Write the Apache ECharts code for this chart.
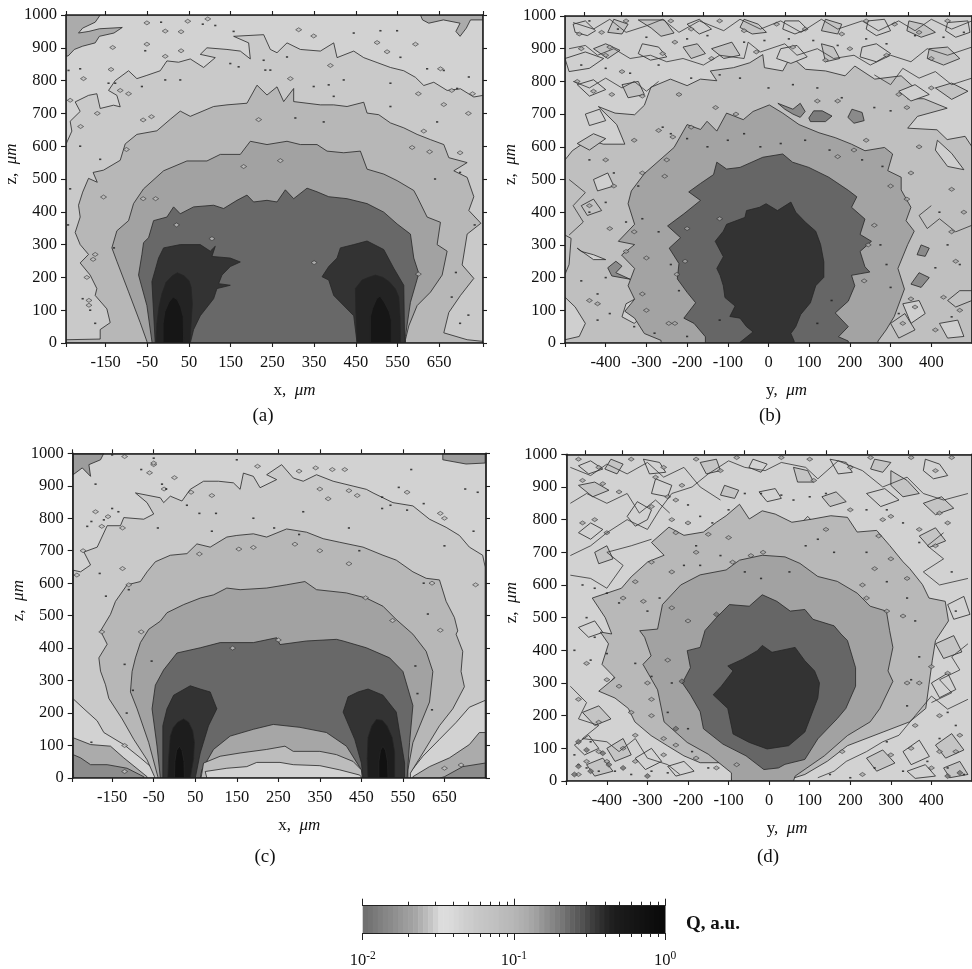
<!DOCTYPE html>
<html><head><meta charset="utf-8">
<style>html,body{margin:0;padding:0;background:#fff;overflow:hidden}#c{width:972px;height:969px}</style>
<script src="https://cdn.jsdelivr.net/npm/echarts@6/dist/echarts.min.js"></script>
</head><body><div id="c"></div>
<script>
// ---- tick labels ----
const xTickLabelsAC=[-150,-50,50,150,250,350,450,550,650];
const xTicksAC=[-245,-150,-50,50,150,250,350,450,550,650,755];
const yTickLabelsBD=[-400,-300,-200,-100,0,100,200,300,400];
const xTicksBD=[-500,-400,-300,-200,-100,0,100,200,300,400];
const xTopTicksBD=[-453,-362,-262,-160,-61,40,140,241,343,444];
const cbarMinor=[0.02,0.03,0.04,0.05,0.06,0.07,0.08,0.09,0.2,0.3,0.4,0.5,0.6,0.7,0.8,0.9];
const cbarMajor=[0.01,0.1,1];
const cbarGray=[112,116,122,128,134,138,144,150,156,160,166,176,186,196,208,220,220,218,214,210,206,204,200,198,196,194,192,188,186,184,180,176,172,166,160,150,142,134,126,118,108,98,90,82,72,62,54,46,38,32,28,26,24,22,20,18,16,14,12,10];

// ---- panel (a) contours ----
const aCornerL=[[-245,1000],[-163,1000],[-175,978],[-205,960],[-215,945],[-190,950],[-165,958],[-110,962],[-130,945],[-165,935],[-175,915],[-205,905],[-225,895],[-240,875],[-245,875]];
const aCornerR=[[605,1000],[755,1000],[755,985],[725,985],[715,960],[700,935],[690,950],[700,975],[660,985],[625,975],[610,985]];
const aA=[[-245,606],[-231,646],[-235,676],[-211,706],[-223,735],[-191,755],[-171,760],[-163,715],[-131,725],[-115,720],[-123,755],[-143,770],[-127,800],[-95,830],[-75,806],[-51,816],[-19,830],[-3,860],[25,856],[53,866],[85,840],[113,870],[77,880],[93,900],[141,895],[173,890],[197,866],[193,915],[157,935],[229,940],[245,895],[261,885],[285,915],[317,895],[365,890],[397,915],[405,870],[445,890],[469,870],[501,855],[533,840],[565,830],[593,810],[613,785],[637,795],[669,770],[701,775],[733,750],[755,755],[755,0],[-245,0]];
const aB=[[-245,10],[-163,12],[-163,41],[-139,62],[-147,104],[-175,145],[-171,166],[-187,207],[-211,244],[-191,270],[-211,300],[-223,337],[-211,384],[-215,420],[-205,460],[-191,502],[-170,490],[-180,520],[-155,527],[-115,557],[-103,607],[-75,636],[-27,647],[5,682],[29,707],[53,691],[109,721],[141,726],[189,731],[213,786],[237,756],[261,781],[277,736],[301,776],[301,736],[365,726],[397,726],[429,721],[469,734],[477,701],[505,696],[533,671],[565,656],[597,636],[629,620],[661,605],[673,565],[717,550],[685,525],[717,505],[733,446],[721,404],[750,365],[717,332],[705,238],[733,197],[701,145],[673,93],[661,31],[717,10],[755,5],[755,0],[-245,0]];
const aC=[[-51,5],[-67,62],[-95,156],[-123,249],[-135,290],[-123,342],[-95,373],[-83,425],[-59,470],[-11,525],[45,555],[93,555],[125,575],[173,575],[197,615],[237,605],[285,615],[317,605],[357,605],[381,585],[421,580],[461,585],[477,530],[517,515],[549,495],[589,465],[597,446],[621,384],[653,368],[645,300],[669,280],[657,207],[629,155],[597,114],[577,52],[569,10],[569,0],[-51,0]];
const aD=[[-39,5],[-51,114],[-71,207],[-63,270],[-59,306],[-47,321],[-35,373],[-3,384],[13,415],[29,394],[61,415],[109,420],[133,410],[165,435],[189,451],[205,430],[237,435],[261,430],[281,467],[301,440],[333,472],[357,461],[385,446],[429,440],[477,425],[517,399],[549,363],[581,332],[589,259],[601,212],[581,124],[569,21],[569,0],[-39,0]];
const aEL=[[-31,0],[-39,187],[-23,259],[-11,290],[29,300],[77,300],[101,280],[113,295],[105,264],[149,259],[173,247],[149,233],[129,207],[121,181],[149,176],[117,166],[109,135],[77,83],[61,41],[53,0]];
const aER=[[453,0],[445,83],[397,145],[385,192],[369,202],[385,233],[405,259],[413,290],[445,300],[477,311],[517,285],[541,228],[565,176],[567,0]];
const aFL=[[-29,0],[-27,60],[-22,110],[-15,150],[-5,185],[10,205],[22,214],[38,205],[50,190],[55,170],[58,120],[55,60],[52,0]];
const aFR=[[453,0],[450,100],[449,166],[465,192],[480,200],[497,207],[515,200],[530,187],[545,165],[553,140],[556,80],[557,0]];
const aGL=[[-12,0],[-12,60],[-8,95],[2,125],[12,140],[22,132],[30,110],[36,80],[37,0]];
const aGR=[[485,0],[485,80],[490,105],[500,135],[508,143],[518,125],[530,95],[535,70],[535,0]];
const aDots=[[-17,978],[83,972],[113,968],[157,950],[509,952],[549,952],[445,945],[285,872],[229,862],[149,852],[169,842],[233,832],[245,832],[421,802],[349,782],[385,787],[533,792],[397,752],[305,686],[373,674],[-7,802],[29,802],[-63,782],[-143,792],[-127,792],[-211,836],[-239,831],[-55,891],[557,871],[621,836],[661,831],[721,811],[693,776],[533,721],[645,674],[-211,600],[-163,560],[-235,470],[640,500],[700,520],[-205,135],[-187,100],[-175,60],[700,60],[720,85],[680,140],[-240,360],[-130,290],[735,360],[690,215]];
const aBlobs=[[-7,951],[-51,976],[31,949],[47,981],[95,988],[-133,901],[-51,911],[31,891],[-7,874],[-137,834],[-203,806],[389,846],[501,916],[525,888],[593,911],[653,836],[661,727],[293,806],[313,955],[349,936],[627,583],[269,556],[181,538],[217,681],[585,596],[613,646],[-95,760],[-115,770],[-60,680],[-40,690],[-100,590],[-155,445],[-60,440],[-30,440],[-175,270],[-180,255],[-235,740],[-210,660],[-195,200],[-190,130],[-190,115],[20,360],[105,318],[600,210],[350,245],[700,580],[720,700],[680,770],[730,760],[600,760],[-170,700]];

// ---- panel (b) contours ----
const bA=[[-500,560],[-482,588],[-442,622],[-406,608],[-353,608],[-373,668],[-418,723],[-377,703],[-329,698],[-305,727],[-289,782],[-241,807],[-200,787],[-167,807],[-127,802],[-143,832],[-86,842],[-46,857],[-14,882],[-10,842],[35,832],[55,877],[91,837],[140,832],[188,817],[212,847],[261,807],[326,817],[366,772],[342,747],[382,747],[439,718],[366,693],[342,657],[414,652],[439,622],[483,632],[500,600],[500,0],[-500,0]];
const bB=[[-264,8],[-305,29],[-329,76],[-353,97],[-329,134],[-345,175],[-329,228],[-361,269],[-329,301],[-369,311],[-329,363],[-345,426],[-337,465],[-305,518],[-232,598],[-200,668],[-167,653],[-151,678],[-127,648],[-103,703],[-62,683],[-38,708],[2,728],[35,703],[75,668],[124,643],[164,628],[204,608],[237,588],[285,598],[305,578],[293,527],[326,507],[326,468],[350,415],[338,374],[358,342],[342,301],[318,228],[334,165],[309,81],[289,40],[269,6],[269,0],[-264,0]];
const bC=[[-155,19],[-183,60],[-208,76],[-179,123],[-200,155],[-224,196],[-220,243],[-244,290],[-216,322],[-248,358],[-208,395],[-167,436],[-196,462],[-167,488],[-135,515],[-127,553],[-103,532],[-70,537],[-14,568],[35,578],[59,553],[99,537],[148,507],[196,467],[217,447],[204,415],[237,379],[225,332],[253,311],[225,280],[237,233],[249,217],[204,207],[212,175],[196,128],[164,92],[196,50],[172,19],[196,6],[196,0],[-155,0]];
const bD=[[-70,2],[-38,34],[-54,50],[-70,76],[-95,81],[-82,113],[-107,139],[-111,175],[-119,207],[-127,228],[-111,264],[-131,311],[-111,342],[-103,363],[-58,384],[-54,405],[-22,415],[-6,426],[22,405],[55,431],[67,400],[91,369],[116,342],[128,301],[136,248],[136,201],[116,175],[103,123],[79,87],[67,50],[55,29],[63,6],[63,0],[-70,0]];
const bPatch1=[[99,688],[111,710],[132,710],[156,694],[140,677],[103,677]];
const bPatch2=[[23,733],[60,715],[78,733],[90,708],[78,690],[60,700],[40,715]];
const bPatch3=[[195,690],[205,715],[230,705],[235,680],[210,672]];
const bPatch4=[[-340,195],[-385,205],[-395,230],[-375,250],[-360,235],[-375,215]];
const bPatch5=[[365,270],[375,300],[395,290],[385,265]];
const bPatch6=[[350,180],[370,215],[395,200],[375,170]];
const bLoops=[
 [[-460,280],[-430,270],[-400,255],[-430,255],[-470,290]],
 [[-500,330],[-485,320],[-490,240],[-500,210]],
 [[-500,140],[-475,110],[-450,60],[-465,20],[-500,10]],
 [[-320,988],[-256,988],[-232,948],[-264,938],[-288,963]],
 [[-500,870],[-450,890],[-405,870],[-440,840],[-490,830]],
 [[470,160],[440,130],[460,110],[500,130],[500,160]],
 [[415,620],[450,580],[480,530],[440,540],[410,590]],
 [[-140,900],[-110,870],[-70,880],[-90,920]],
 [[-480,975],[-450,985],[-425,955],[-445,940],[-475,950]],
 [[-380,990],[-345,975],[-360,945],[-395,950]],
 [[-200,975],[-170,990],[-140,960],[-170,945]],
 [[-60,990],[-25,975],[-5,950],[-40,945],[-70,965]],
 [[40,985],[75,985],[95,960],[65,945],[35,960]],
 [[140,990],[180,975],[170,945],[130,955]],
 [[245,985],[285,990],[300,955],[265,940],[240,960]],
 [[345,985],[380,975],[410,950],[375,935],[340,955]],
 [[440,980],[490,985],[495,950],[460,935],[435,955]],
 [[-430,900],[-400,915],[-365,895],[-395,870]],
 [[-310,915],[-270,905],[-250,875],[-290,865],[-320,885]],
 [[-210,905],[-175,915],[-155,885],[-190,870]],
 [[30,900],[70,910],[95,875],[55,855],[20,870]],
 [[130,915],[160,905],[175,870],[140,860]],
 [[230,905],[265,915],[300,885],[265,860],[225,875]],
 [[395,900],[440,905],[470,870],[430,850],[390,870]],
 [[-470,790],[-430,805],[-400,775],[-440,755]],
 [[-360,790],[-320,800],[-305,760],[-345,750]],
 [[-450,700],[-415,715],[-400,680],[-440,665]],
 [[-470,610],[-430,640],[-400,625],[-440,590]],
 [[320,770],[360,790],[395,760],[350,740]],
 [[410,780],[450,795],[490,770],[450,745]],
 [[-430,500],[-395,520],[-380,480],[-420,465]],
 [[-460,420],[-430,440],[-410,405],[-445,390]],
 [[-350,120],[-320,140],[-300,90],[-330,60],[-360,80]],
 [[-300,90],[-270,70],[-280,20],[-310,40]],
 [[330,120],[370,130],[385,90],[350,60]],
 [[300,60],[335,90],[360,40],[320,15]],
 [[420,60],[465,70],[480,20],[440,15]]
];
const bLine1=[[-490,900],[-450,910],[-420,880],[-380,900],[-340,870],[-290,880],[-250,860],[-210,870],[-160,850],[-120,880],[-60,870],[-50,920],[-20,890],[40,915],[70,880],[120,900],[160,870],[210,880],[250,850],[300,880],[350,860],[390,900],[440,880],[500,905]];
const bLine2=[[-480,980],[-430,960],[-390,990],[-350,950],[-300,970],[-260,990],[-220,950],[-170,985],[-110,955],[-70,990],[-20,960],[30,985],[80,950],[130,990],[170,960],[230,985],[270,955],[320,985],[360,955],[400,990],[450,960],[500,985]];
const bLine3=[[-480,800],[-440,780],[-400,810],[-360,780],[-330,800],[-300,770],[-270,800]];
const bLine4=[[260,820],[300,790],[330,840],[370,810],[410,830],[450,790],[500,810]];
const bLine5=[[400,420],[370,390],[390,350],[420,380],[460,340],[500,360]];
const bLine6=[[-490,500],[-450,460],[-480,420],[-455,370],[-490,330]];
const bDots=[[-440,985],[-370,960],[-300,935],[-200,930],[-150,940],[-60,920],[-10,925],[50,930],[110,925],[170,910],[240,930],[290,915],[360,940],[430,935],[480,950],[-460,850],[-400,840],[-340,825],[-270,850],[-190,810],[-120,820],[-70,810],[0,780],[60,790],[120,780],[180,750],[260,720],[300,710],[-260,660],[-240,640],[-200,625],[-150,600],[-100,620],[-60,640],[-20,600],[30,610],[90,620],[150,590],[230,560],[280,540],[-440,560],[-380,520],[-320,480],[-440,400],[-400,430],[-350,370],[-310,380],[-270,340],[-460,190],[-420,150],[-390,90],[-330,50],[-280,30],[-200,20],[-240,240],[-220,160],[-120,70],[120,60],[155,130],[275,300],[290,240],[300,170],[320,90],[420,400],[440,300],[470,240],[410,230],[450,80],[-420,70],[-400,200]];
const bBlobs=[[-465,945],[-410,950],[-390,905],[-350,985],[-240,985],[-190,960],[-120,985],[-60,955],[20,975],[90,960],[180,945],[240,985],[310,975],[370,950],[440,985],[-460,900],[-400,880],[-360,830],[-260,885],[-230,920],[-140,870],[-30,890],[60,905],[140,865],[200,900],[290,880],[400,870],[-470,800],[-430,770],[-385,760],[-310,755],[-220,760],[-130,720],[-80,700],[-190,660],[-235,630],[-270,650],[-330,620],[-400,560],[-380,480],[-250,560],[-255,510],[-310,520],[170,570],[210,590],[240,620],[170,740],[120,740],[320,760],[340,720],[400,780],[370,600],[350,520],[300,480],[340,440],[450,470],[480,400],[-440,420],[-390,350],[-440,130],[-420,120],[-330,340],[-350,280],[-300,260],[-310,150],[-300,100],[-245,60],[-225,210],[-200,350],[-120,380],[235,190],[245,300],[260,360],[330,60],[360,110],[410,40],[470,100],[430,140],[460,250],[450,340],[350,135],[-205,250],[-230,60]];

// ---- panel (c) contours ----
const cCornerTL=[[-244,1000],[-170,1000],[-178,980],[-206,965],[-202,929],[-222,955],[-244,934]];
const cCornerTR=[[646,1000],[748,1000],[748,970],[702,967],[646,980]];
const cA=[[-244,640],[-226,635],[-202,656],[-218,696],[-186,711],[-162,777],[-130,777],[-122,802],[-74,797],[-50,813],[-66,848],[-94,878],[-34,863],[-26,848],[-10,868],[18,853],[38,889],[70,914],[106,914],[142,909],[158,889],[166,939],[190,929],[206,894],[246,919],[222,934],[258,965],[286,924],[310,914],[342,934],[382,914],[430,899],[462,889],[478,878],[526,848],[574,838],[614,797],[654,772],[686,747],[710,711],[742,686],[748,650],[748,0],[-244,0]];
const cL1=[[-244,244],[-218,213],[-186,176],[-170,140],[-122,103],[-82,62],[-48,25],[-44,0],[-244,0]];
const cL2=[[-244,124],[-202,103],[-154,98],[-122,62],[-66,4],[-66,0],[-244,0]];
const cL3=[[-244,72],[-226,62],[-202,41],[-162,41],[-114,30],[-74,4],[-74,0],[-244,0]];
const cR1=[[566,15],[598,67],[638,119],[678,171],[710,218],[748,239],[748,0],[566,0]];
const cR2=[[574,4],[614,35],[662,62],[710,103],[734,140],[748,140],[748,0],[574,0]];
const cR3=[[650,4],[694,35],[748,46],[748,0],[640,0]];
const cB=[[-48,4],[-66,56],[-98,119],[-126,182],[-158,245],[-166,287],[-178,329],[-182,370],[-162,412],[-178,453],[-154,504],[-142,544],[-114,595],[-82,605],[-66,635],[-46,666],[-10,686],[30,691],[54,721],[86,711],[126,742],[150,747],[190,752],[222,742],[270,767],[318,757],[358,737],[398,726],[454,711],[502,686],[534,671],[574,635],[606,615],[638,610],[654,544],[674,494],[682,453],[678,443],[694,390],[690,328],[698,281],[670,213],[638,161],[598,77],[568,15],[568,0],[-48,0]];
const cC=[[-40,4],[-62,109],[-90,213],[-106,265],[-102,328],[-94,370],[-82,417],[-62,458],[-34,483],[-18,509],[22,534],[62,554],[94,564],[126,585],[158,580],[222,585],[270,595],[314,605],[342,580],[414,570],[462,554],[502,529],[534,488],[574,443],[606,390],[622,328],[614,234],[574,109],[562,25],[562,0],[-40,0]];
const cD=[[-34,0],[-42,98],[-54,213],[-46,286],[-26,333],[6,385],[62,401],[110,417],[190,417],[246,432],[254,411],[318,422],[390,427],[406,422],[462,401],[518,370],[550,328],[574,223],[566,109],[560,0]];
const cM1=[[62,0],[66,25],[94,88],[134,129],[190,150],[238,165],[302,156],[366,140],[414,98],[450,25],[452,0]];
const cM2=[[64,0],[70,46],[110,67],[158,77],[222,88],[266,98],[286,82],[350,82],[390,72],[430,51],[450,25],[452,0]];
const cM3=[[78,0],[74,20],[126,30],[174,35],[198,48],[254,48],[286,41],[350,38],[398,25],[446,9],[452,0]];
const cEL=[[-28,0],[-28,161],[-18,213],[-2,255],[38,284],[62,274],[86,265],[102,213],[82,161],[62,77],[50,0]];
const cFL=[[-16,0],[-14,60],[-10,129],[-3,155],[8,172],[22,182],[34,172],[44,145],[48,110],[46,60],[38,0]];
const cGL=[[0,0],[1,50],[5,85],[12,98],[18,85],[23,50],[24,0]];
const cER=[[454,0],[450,46],[434,119],[406,203],[418,250],[442,265],[466,274],[502,255],[534,203],[554,46],[554,0]];
const cFR=[[466,0],[464,60],[466,125],[475,160],[486,180],[500,178],[512,160],[524,125],[530,80],[530,0]];
const cGR=[[492,0],[492,50],[496,85],[502,98],[508,85],[513,50],[514,0]];
const cDots=[[-150,995],[-50,985],[150,980],[-80,950],[-190,905],[-30,905],[-20,890],[30,840],[60,815],[100,815],[-40,770],[-150,830],[-135,820],[-170,795],[-200,790],[-210,775],[90,760],[240,770],[190,800],[300,750],[310,820],[420,770],[445,700],[500,830],[560,825],[600,845],[500,865],[520,840],[540,895],[570,950],[700,890],[730,880],[650,715],[720,760],[-180,630],[-165,560],[-110,580],[600,600],[610,505],[-120,350],[-100,270],[-55,360],[580,345],[585,260],[620,210],[-115,200],[-200,110]];
const cBlobs=[[-120,990],[-50,965],[-50,970],[-60,940],[0,925],[-25,890],[40,880],[90,870],[200,960],[300,945],[340,955],[380,950],[410,950],[350,890],[370,860],[440,870],[420,885],[560,880],[640,815],[650,800],[-190,820],[-160,805],[-175,775],[-125,770],[-220,700],[-235,625],[620,600],[725,595],[-125,645],[60,690],[155,705],[190,710],[290,720],[350,700],[420,660],[-110,595],[460,555],[525,485],[640,455],[-175,450],[-80,450],[140,400],[250,425],[-120,100],[690,40],[650,30],[-120,20]];

// ---- panel (d) contours ----
const dP1=[[-93,0],[-89,25],[-122,56],[-170,56],[-210,77],[-251,108],[-291,139],[-331,181],[-347,222],[-380,254],[-420,275],[-380,316],[-412,357],[-396,420],[-416,456],[-388,450],[-404,500],[-436,560],[-364,590],[-340,625],[-299,671],[-259,691],[-290,730],[-247,777],[-210,752],[-162,762],[-130,792],[-106,812],[-73,847],[-49,802],[-17,827],[15,817],[56,792],[108,802],[152,812],[193,807],[217,762],[265,767],[297,721],[330,671],[346,651],[378,601],[394,560],[434,550],[442,490],[410,430],[402,368],[394,295],[386,222],[346,181],[281,150],[193,108],[144,61],[88,20],[60,9],[60,0]];
const dP2=[[-93,0],[-93,25],[-150,82],[-202,118],[-259,181],[-275,279],[-311,357],[-291,383],[-307,440],[-319,460],[-275,465],[-263,540],[-218,600],[-170,631],[-106,646],[-73,676],[-17,691],[39,686],[76,666],[120,626],[168,611],[217,575],[249,535],[289,520],[297,460],[305,409],[293,337],[305,305],[273,222],[249,181],[193,139],[136,77],[64,15],[60,0]];
const dP3=[[-13,35],[-57,77],[-114,113],[-162,160],[-170,212],[-194,264],[-214,300],[-194,347],[-202,399],[-170,409],[-158,461],[-130,500],[-98,540],[-49,535],[-17,570],[19,550],[52,520],[88,525],[108,495],[160,475],[177,450],[193,430],[213,347],[213,290],[189,222],[168,191],[120,129],[88,66],[39,51],[23,40]];
const dP4=[[-5,98],[-49,118],[-89,144],[-102,222],[-138,264],[-118,290],[-89,337],[-102,352],[-65,373],[-29,399],[-17,415],[7,394],[64,409],[88,368],[112,337],[124,300],[120,254],[104,202],[88,150],[48,108]];
const dLine1=[[-490,690],[-440,720],[-400,760],[-350,800],[-300,770],[-270,830],[-240,880],[-190,900],[-150,940],[-100,980],[-60,960],[-10,950],[30,975],[90,960],[120,925],[170,980],[230,950],[280,900],[340,930],[380,880],[430,860],[490,880]];
const dLine2=[[-490,960],[-440,935],[-400,970],[-350,940],[-300,975],[-260,930],[-210,960],[-170,900],[-120,860]];
const dLine3=[[-490,850],[-450,880],[-400,850],[-350,880],[-320,820],[-280,860],[-245,820]];
const dLine4=[[-490,290],[-450,240],[-470,190],[-420,170],[-460,130],[-400,120],[-370,90],[-330,130],[-300,70],[-250,50],[-220,20]];
const dLine5=[[490,250],[440,220],[400,260],[360,200],[320,140],[280,120],[240,90],[190,60],[160,30],[120,10]];
const dLine6=[[490,420],[450,380],[470,340],[420,310],[450,270],[400,240]];
const dLine7=[[-490,630],[-440,620],[-400,590],[-360,660],[-400,700],[-340,720],[-290,740]];
const dLine8=[[430,760],[390,720],[430,680],[380,640],[420,600],[490,620]];
const dLoops=[
 [[-325,855],[-350,810],[-330,780],[-300,800],[-290,830]],
 [[300,950],[340,920],[370,880],[330,870],[300,905]],
 [[95,810],[125,770],[110,740],[70,760],[80,790]],
 [[-380,320],[-350,270],[-320,250],[-360,240],[-400,290]],
 [[-470,965],[-440,980],[-410,955],[-445,940]],
 [[-390,985],[-360,970],[-375,940],[-405,955]],
 [[-310,985],[-270,975],[-255,945],[-295,940]],
 [[-170,975],[-130,985],[-120,950],[-155,940]],
 [[-40,985],[-5,970],[-20,945],[-50,960]],
 [[60,960],[95,950],[110,915],[70,915]],
 [[150,985],[190,975],[205,945],[170,940]],
 [[260,985],[300,975],[280,945],[250,955]],
 [[385,985],[420,970],[440,935],[405,925],[380,950]],
 [[-470,905],[-430,915],[-395,890],[-435,870]],
 [[-280,925],[-240,905],[-250,870],[-290,880]],
 [[-110,905],[-75,890],[-85,865],[-120,875]],
 [[-25,885],[15,895],[30,865],[-5,855]],
 [[130,870],[165,885],[190,855],[150,840]],
 [[240,880],[285,895],[320,860],[275,840]],
 [[380,850],[425,870],[455,835],[410,815]],
 [[-470,760],[-440,790],[-410,770],[-440,740]],
 [[-430,700],[-400,720],[-385,680],[-420,665]],
 [[-470,470],[-430,490],[-410,455],[-445,440]],
 [[-460,210],[-420,230],[-390,190],[-430,170]],
 [[-480,110],[-445,140],[-420,100],[-455,80]],
 [[-400,100],[-360,130],[-340,80],[-380,60]],
 [[-330,70],[-290,100],[-265,60],[-305,35]],
 [[-450,50],[-410,70],[-385,30],[-430,15]],
 [[-250,45],[-210,60],[-185,30],[-230,15]],
 [[240,70],[280,95],[310,55],[265,30]],
 [[330,90],[370,125],[395,75],[350,50]],
 [[410,110],[450,145],[480,95],[435,70]],
 [[340,30],[385,50],[410,15],[360,8]],
 [[430,40],[470,60],[490,20],[445,10]],
 [[400,300],[440,330],[460,280],[420,255]],
 [[410,420],[455,445],[475,395],[430,375]],
 [[440,540],[480,565],[495,510],[455,495]],
 [[370,750],[410,775],[435,735],[395,715]]
];
const dDark=[[-470,45],[-440,30],[-480,20],[-410,85],[-450,95],[-470,120],[-395,50],[-360,40],[440,15],[470,25],[-300,15],[-230,160],[-215,305],[-130,510]];
const dDots=[[-460,600],[-430,590],[-400,575],[-370,545],[-450,500],[-430,440],[-400,390],[-300,520],[-270,560],[-180,720],[-120,690],[-60,640],[-20,620],[50,640],[90,720],[120,740],[160,700],[240,700],[290,610],[340,560],[360,490],[-170,660],[-210,660],[-100,830],[-60,880],[-20,880],[30,875],[60,860],[100,870],[140,880],[-200,845],[-170,810],[-140,790],[240,830],[290,830],[330,790],[370,730],[450,640],[460,520],[-330,360],[-290,320],[-240,300],[-250,210],[-200,160],[-190,90],[-150,40],[-450,40],[-420,30],[-380,30],[-340,20],[-290,30],[-250,25],[150,20],[200,10],[260,40],[330,30],[390,60],[440,40],[480,20],[290,120],[340,230],[350,310],[370,380],[440,210],[460,170],[420,130],[-480,80],[-470,50],[-440,120],[-480,400],[-440,370]];
const dBlobs=[[-470,985],[-420,960],[-340,985],[-280,930],[-215,905],[-260,960],[-180,985],[-120,950],[-80,990],[30,990],[100,985],[110,920],[200,960],[250,990],[350,990],[410,950],[450,990],[-460,920],[-410,910],[-370,885],[-250,870],[-230,860],[-290,840],[-460,790],[-430,800],[-400,760],[-240,800],[-230,760],[-200,790],[-150,755],[-100,745],[-180,700],[-90,670],[-45,690],[-15,700],[-240,640],[-290,670],[-330,610],[-360,560],[-310,550],[-240,530],[-200,490],[300,680],[260,650],[230,600],[240,560],[290,520],[330,505],[340,620],[370,770],[410,720],[300,810],[200,830],[140,770],[270,750],[280,800],[420,820],[440,790],[-450,360],[-400,310],[-370,290],[-300,300],[-290,250],[-290,200],[-250,370],[-470,250],[-420,180],[-340,210],[-330,140],[-360,100],[-420,90],[-450,60],[-470,20],[-400,60],[-330,60],[-260,80],[-180,70],[-130,40],[-80,50],[-260,130],[-230,110],[460,90],[420,90],[400,40],[350,100],[300,80],[230,20],[180,90],[440,330],[400,350],[370,300],[340,300],[360,170],[420,200],[470,140]];

const FONT='"Liberation Serif", serif';
const AX='#1e1e1e';
const grids=[
 {left:66,top:15,width:417,height:328},
 {left:565,top:16,width:412.5,height:327},
 {left:72.7,top:453.3,width:413.3,height:324.7},
 {left:566.3,top:454.3,width:413.6,height:326.7},
 {left:362.7,top:905.7,width:302.3,height:28.3}
];
function baseAxis(extra){return Object.assign({type:'value',z:10,splitLine:{show:false},
  axisLine:{show:true,onZero:false,lineStyle:{color:AX,width:1.6}},
  axisTick:{show:true,inside:false,length:4,lineStyle:{color:AX,width:1.1}},
  axisLabel:{show:false}},extra);}
const xAxes=[],yAxes=[];
function addPanel(g,min,max,name,ticks,labels,topTicks,nameShift,yShift){
  xAxes.push(baseAxis({gridIndex:g,position:'bottom',min,max,
    name:'{n|'+name+',  }{i|μm}',nameLocation:'center',nameGap:39,
    nameTextStyle:{padding:[0,0,0,nameShift],rich:{n:{fontFamily:FONT,fontSize:17,color:'#111'},i:{fontFamily:FONT,fontStyle:'italic',fontSize:17,color:'#111'}}},
    axisTick:{show:true,length:4,customValues:ticks,lineStyle:{color:AX,width:1.1}},
    axisLabel:{show:true,customValues:labels,fontFamily:FONT,fontSize:16.5,color:'#111',margin:11,hideOverlap:false,formatter:v=>String(v)}}));
  xAxes.push(baseAxis({gridIndex:g,position:'top',min,max,
    axisTick:{show:true,length:4,customValues:topTicks,lineStyle:{color:AX,width:1.1}}}));
  yAxes.push(baseAxis({gridIndex:g,position:'left',min:0,max:1000,interval:100,
    name:'{n|z,  }{i|μm}',nameLocation:'center',nameGap:41,nameRotate:90,
    nameTextStyle:{padding:[0,0,0,yShift],rich:{n:{fontFamily:FONT,fontSize:17,color:'#111'},i:{fontFamily:FONT,fontStyle:'italic',fontSize:17,color:'#111'}}},
    axisTick:{show:true,length:5,lineStyle:{color:AX,width:1.1}},
    axisLabel:{show:true,fontFamily:FONT,fontSize:16.5,color:'#111',margin:9,formatter:v=>String(v)}}));
  yAxes.push(baseAxis({gridIndex:g,position:'right',min:0,max:1000,interval:100,
    axisTick:{show:true,length:4,lineStyle:{color:AX,width:1.1}}}));
}
addPanel(0,-245,755,'x',xTicksAC,xTickLabelsAC,xTicksAC,40,30);
addPanel(1,-500,500,'y',xTicksBD,yTickLabelsBD,xTopTicksBD,36,30);
addPanel(2,-245,750,'x',xTicksAC,xTickLabelsAC,xTicksAC,40,30);
addPanel(3,-500,500,'y',xTicksBD,yTickLabelsBD,xTopTicksBD,36,30);

// colour bar axes (exponent scale)
const lg=a=>a.map(v=>Math.log10(v));
function cbAxis(pos,vals,len,label){return baseAxis({gridIndex:4,position:pos,min:-2,max:0,
  axisLine:{show:true,onZero:false,lineStyle:{color:'#222',width:1.2}},
  axisTick:{show:true,length:len,customValues:lg(vals),lineStyle:{color:'#222',width:1}},
  axisLabel:label?{show:true,customValues:lg(cbarMajor),margin:17,hideOverlap:false,
    formatter:v=>'{b|10}{s|'+Math.round(v)+'}',
    rich:{b:{fontFamily:FONT,fontSize:16.5,color:'#111'},s:{fontFamily:FONT,fontSize:11.5,color:'#111',padding:[0,0,9,0]}}}:{show:false}});}
xAxes.push(cbAxis('top',cbarMinor,4,false),cbAxis('top',cbarMajor,7,false),cbAxis('bottom',cbarMinor,4,false),cbAxis('bottom',cbarMajor,7,true));
yAxes.push({type:'value',gridIndex:4,min:0,max:1,show:false});

const LINE='#262626',LW=0.8;
const series=[];
function poly(p,pts,fill){
  series.push({type:'custom',xAxisIndex:p*2,yAxisIndex:p*2,clip:true,silent:true,animation:false,
    encode:{x:0,y:1},data:pts,
    renderItem(params,api){
      if(params.dataIndex!==0)return null;
      return {type:'polygon',shape:{points:pts.map(q=>api.coord(q))},style:{fill:fill,stroke:LINE,lineWidth:LW}};
    }});
}
function wire(p,pts){
  series.push({type:'line',xAxisIndex:p*2,yAxisIndex:p*2,data:pts,symbol:'none',silent:true,animation:false,clip:true,
    lineStyle:{color:'#333',width:0.8}});
}
function specks(p,dots,blobs,fill){
  series.push({type:'scatter',xAxisIndex:p*2,yAxisIndex:p*2,data:blobs,symbol:'diamond',symbolSize:[6,4],silent:true,animation:false,
    itemStyle:{color:fill,borderColor:'#2a2a2a',borderWidth:0.7}});
  series.push({type:'scatter',xAxisIndex:p*2,yAxisIndex:p*2,data:dots,symbol:'rect',symbolSize:[2.2,1.6],silent:true,animation:false,
    itemStyle:{color:'#1a1a1a'}});
}
const G={bg:'#d2d2d2',A:'#c9c9c9',B:'#b7b7b7',C:'#a2a2a2',D:'#686868',E:'#333333',F:'#232323',H:'#161616'};
const fullA=[[-245,0],[755,0],[755,1000],[-245,1000]], fullC=[[-245,0],[750,0],[750,1000],[-245,1000]], fullB=[[-500,0],[500,0],[500,1000],[-500,1000]];
// (a)
poly(0,fullA,G.bg);poly(0,aCornerL,'#ababab');poly(0,aCornerR,'#ababab');poly(0,aA,G.A);poly(0,aB,G.B);poly(0,aC,G.C);poly(0,aD,G.D);
poly(0,aEL,G.E);poly(0,aER,G.E);poly(0,aFL,G.F);poly(0,aFR,G.F);poly(0,aGL,G.H);poly(0,aGR,G.H);
specks(0,aDots,aBlobs,'#bdbdbd');
// (b)
poly(1,fullB,'#d0d0d0');poly(1,bA,'#bfbfbf');
bLoops.forEach((l,i)=>poly(1,l,i%2?'#c2c2c2':'#cfcfcf'));
[bLine1,bLine2,bLine3,bLine4,bLine5,bLine6].forEach(l=>wire(1,l));
poly(1,bB,'#a3a3a3');poly(1,bPatch1,'#7c7c7c');poly(1,bPatch2,'#8a8a8a');poly(1,bPatch3,'#8a8a8a');poly(1,bPatch4,'#8a8a8a');poly(1,bPatch5,'#8a8a8a');poly(1,bPatch6,'#8a8a8a');
poly(1,bC,'#666666');poly(1,bD,G.E);
specks(1,bDots,bBlobs,'#a8a8a8');
// (c)
poly(2,fullC,G.bg);poly(2,cCornerTL,'#9c9c9c');poly(2,cCornerTR,'#9c9c9c');poly(2,cA,G.A);
poly(2,cL1,G.bg);poly(2,cL2,'#ababab');poly(2,cL3,'#8c8c8c');poly(2,cR1,G.bg);poly(2,cR2,'#ababab');poly(2,cR3,'#8c8c8c');
poly(2,cB,G.B);poly(2,cC,G.C);poly(2,cD,G.D);poly(2,cM1,'#a6a6a6');poly(2,cM2,'#bcbcbc');poly(2,cM3,'#d2d2d2');
poly(2,cEL,G.E);poly(2,cER,G.E);poly(2,cFL,'#1d1d1d');poly(2,cFR,'#1d1d1d');poly(2,cGL,'#111');poly(2,cGR,'#111');
specks(2,cDots,cBlobs,'#c0c0c0');
// (d)
poly(3,fullB,'#d2d2d2');
[dLine1,dLine2,dLine3,dLine4,dLine5,dLine6,dLine7,dLine8].forEach(l=>wire(3,l));
dLoops.forEach((l,i)=>poly(3,l,i%2?'#c4c4c4':'#d2d2d2'));
poly(3,dP1,'#b8b8b8');poly(3,dP2,'#a2a2a2');poly(3,dP3,'#666666');poly(3,dP4,G.E);
specks(3,dDots,dBlobs,'#a8a8a8');
series.push({type:'scatter',xAxisIndex:6,yAxisIndex:6,data:dDark,symbol:'diamond',symbolSize:[6,5],silent:true,animation:false,itemStyle:{color:'#6e6e6e',borderColor:'#222',borderWidth:0.6}});
// colour bar
series.push({type:'custom',xAxisIndex:11,yAxisIndex:8,silent:true,animation:false,clip:true,
  data:cbarGray.map((g,i)=>[-2+i*2/cbarGray.length,-2+(i+1)*2/cbarGray.length,g]),encode:{x:[0,1]},
  renderItem(params,api){
    const a=api.coord([api.value(0),0]),b=api.coord([api.value(1),1]),g=api.value(2);
    return {type:'rect',shape:{x:a[0],y:b[1],width:b[0]-a[0]+0.5,height:a[1]-b[1]},style:{fill:'rgb('+g+','+g+','+g+')'}};
  }});
function cap(t,x,y){return {text:t,left:x,top:y,textAlign:'center',textVerticalAlign:'middle',textStyle:{fontFamily:FONT,fontSize:19,fontWeight:'normal',color:'#111'}};}
const chart=echarts.init(document.getElementById('c'),null,{renderer:'canvas'});
chart.setOption({animation:false,backgroundColor:'#fff',
  title:[cap('(a)',258,411),cap('(b)',765,411),cap('(c)',260,852),cap('(d)',763,852),
    {text:'Q, a.u.',left:708,top:919,textAlign:'center',textVerticalAlign:'middle',textStyle:{fontFamily:FONT,fontSize:19,fontWeight:'bold',color:'#111'}}],
  grid:grids,xAxis:xAxes,yAxis:yAxes,series});
</script></body></html>
